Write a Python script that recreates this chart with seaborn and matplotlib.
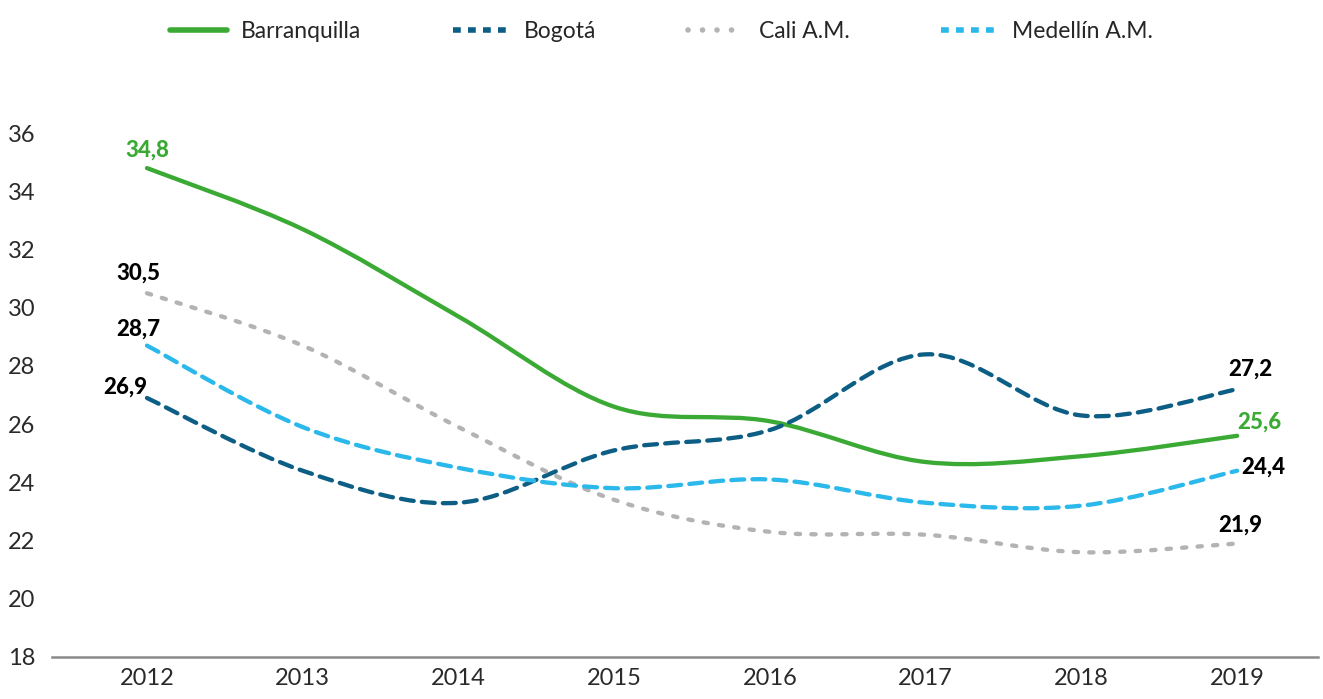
import numpy as np
import pandas as pd
import matplotlib
matplotlib.use("Agg")
import matplotlib.pyplot as plt
from matplotlib.path import Path
from matplotlib.patches import PathPatch
from matplotlib.lines import Line2D
import seaborn as sns

years = [2012, 2013, 2014, 2015, 2016, 2017, 2018, 2019]
barranquilla = [34.8, 32.7, 29.7, 26.6, 26.1, 24.7, 24.9, 25.6]
bogota = [26.9, 24.4, 23.3, 25.1, 25.8, 28.4, 26.3, 27.2]
cali = [30.5, 28.7, 25.9, 23.4, 22.3, 22.2, 21.6, 21.9]
medellin = [28.7, 25.9, 24.5, 23.8, 24.1, 23.3, 23.2, 24.4]
series_names = ["Barranquilla", "Bogotá", "Cali A.M.", "Medellín A.M."]
yticks = [18, 20, 22, 24, 26, 28, 30, 32, 34, 36]

colors = {"Barranquilla": "#3aaa35", "Bogotá": "#0d5e85",
          "Cali A.M.": "#b3b3b3", "Medellín A.M.": "#2bb8ea"}
dashes = {"Barranquilla": "", "Bogotá": (3.0, 1.9),
          "Cali A.M.": (1.0, 2.6), "Medellín A.M.": (3.0, 1.9)}
LW = 3.1

df = pd.DataFrame({
    "year": years * 4,
    "value": barranquilla + bogota + cali + medellin,
    "city": sum([[n] * len(years) for n in series_names], []),
})

sns.set_theme(style="white")
plt.rcParams["font.family"] = ["Lato", "DejaVu Sans"]

fig = plt.figure(figsize=(13.23, 6.99), dpi=100)
ax = fig.add_axes([0.0393, 0.0601, 0.957, 0.791])

sns.lineplot(data=df, x="year", y="value", hue="city", style="city",
             palette=colors, dashes=dashes, linewidth=LW, ax=ax,
             legend=False)


def smooth_path(xs, ys):
    pts = np.column_stack([xs, ys]).astype(float)
    verts = [pts[0]]
    codes = [Path.MOVETO]
    n = len(pts)
    for i in range(n - 1):
        p0 = pts[i - 1] if i > 0 else pts[i]
        p1 = pts[i]
        p2 = pts[i + 1]
        p3 = pts[i + 2] if i + 2 < n else pts[i + 1]
        c1 = p1 + (p2 - p0) / 6.0
        c2 = p2 - (p3 - p1) / 6.0
        verts += [c1, c2, p2]
        codes += [Path.CURVE4] * 3
    return Path(verts, codes)


for ln in list(ax.lines):
    xs, ys = ln.get_xdata(), ln.get_ydata()
    if len(xs) < 2:
        continue
    name = None
    for n in series_names:
        if matplotlib.colors.same_color(ln.get_color(), colors[n]):
            name = n
    if name is None:
        continue
    d = dashes[name]
    linestyle = "-" if d == "" else (0, d)
    patch = PathPatch(smooth_path(xs, ys), fill=False, edgecolor=colors[name],
                      linewidth=LW, linestyle=linestyle, capstyle="round",
                      joinstyle="round")
    ax.add_patch(patch)
    ln.set_visible(False)

handles = []
for n in series_names:
    d = dashes[n]
    if d == "":
        h = Line2D([], [], color=colors[n], lw=4.0, solid_capstyle="round")
    elif n == "Cali A.M.":
        h = Line2D([], [], color=colors[n], lw=4.0, linestyle=(0, (0.01, 2.6)),
                   dash_capstyle="round")
    else:
        h = Line2D([], [], color=colors[n], lw=4.0, linestyle=(0, (1.4, 1.3)),
                   dash_capstyle="butt")
    handles.append(h)
fig.legend(handles, series_names, loc="upper center", ncol=4,
           bbox_to_anchor=(0.5, 1.0), frameon=False, fontsize=16.5,
           handlelength=2.5, columnspacing=4.0, handletextpad=0.6)

ann = [
    (2012, 34.8, "34,8", 0, 18, "#3aaa35"),
    (2012, 30.5, "30,5", -9, 20, "black"),
    (2012, 28.7, "28,7", -9, 16, "black"),
    (2012, 26.9, "26,9", -22, 11, "black"),
    (2019, 27.2, "27,2", 13, 20, "black"),
    (2019, 25.6, "25,6", 22, 14, "#3aaa35"),
    (2019, 24.4, "24,4", 26, 4, "black"),
    (2019, 21.9, "21,9", 3, 18, "black"),
]
for x, y, t, dx, dy, c in ann:
    ax.annotate(t, (x, y), xytext=(dx * 0.72, dy * 0.72), textcoords="offset points",
                ha="center", va="center", fontsize=16, fontweight="black", color=c)

ax.set_xlim(2011.39, 2019.52)
ax.set_ylim(18, 37)
ax.set_yticks(yticks)
ax.set_xticks(years)
ax.set_xticklabels([str(y) for y in years])
ax.tick_params(axis="both", labelsize=17, colors="#2a2a2a", length=0)
ax.tick_params(axis="y", pad=12)
ax.tick_params(axis="x", pad=8)
ax.set_xlabel("")
ax.set_ylabel("")
for s in ["top", "right", "left"]:
    ax.spines[s].set_visible(False)
ax.spines["bottom"].set_color("#8a8a8a")
ax.spines["bottom"].set_linewidth(1.8)

fig.savefig("out.png", dpi=100)
